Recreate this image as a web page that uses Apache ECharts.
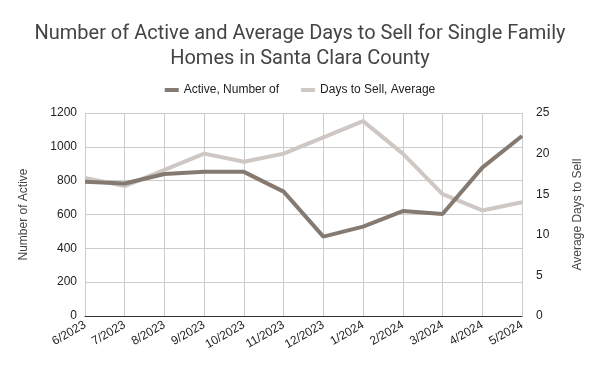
<!DOCTYPE html>
<html><head><meta charset="utf-8">
<script src="https://cdn.jsdelivr.net/npm/echarts@6/dist/echarts.min.js"></script>
<style>html,body{margin:0;padding:0;background:#fff}#c{width:600px;height:371px}</style>
</head><body><div id="c"></div>
<script>
const categories = ['6/2023','7/2023','8/2023','9/2023','10/2023','11/2023','12/2023','1/2024','2/2024','3/2024','4/2024','5/2024'];
const activeNumber = [794, 783, 839, 852, 852, 735, 469, 528, 620, 603, 877, 1064];
const daysToSell = [17, 16, 18, 20, 19, 20, 22, 24, 20, 15, 13, 14];
const leftTicks = [0, 1200, 200];
const rightTicks = [0, 25, 5];

const chart = echarts.init(document.getElementById('c'), null, {renderer: 'canvas'});
const font = '"Liberation Sans", Arial, sans-serif';
const tfont = 'Roboto, Arial, sans-serif';
chart.setOption({
  animation: false,
  title: {
    text: 'Number of Active and Average Days to Sell for Single Family\nHomes in Santa Clara County',
    left: 'center', top: 16,
    textStyle: {fontFamily: tfont, fontSize: 20, fontWeight: 'normal', color: '#444', lineHeight: 25}
  },
  legend: {
    top: 79, left: 'center', itemWidth: 14, itemHeight: 4, itemGap: 22,
    icon: 'rect',
    textStyle: {fontFamily: font, fontSize: 12, color: '#222'},
    data: ['Active, Number of', 'Days to Sell, Average']
  },
  grid: {left: 85, right: 78, top: 113, bottom: 55},
  xAxis: {
    type: 'category', data: categories, boundaryGap: false,
    axisLine: {lineStyle: {color: '#333'}},
    axisTick: {show: false},
    axisLabel: {rotate: 30, fontFamily: font, fontSize: 12, color: '#222', margin: 8, interval: 0},
    splitLine: {show: true, lineStyle: {color: '#ccc'}}
  },
  yAxis: [{
    type: 'value', min: leftTicks[0], max: leftTicks[1], interval: leftTicks[2],
    name: 'Number of Active', nameLocation: 'middle', nameGap: 55,
    nameTextStyle: {fontFamily: font, fontSize: 12, color: '#444'},
    axisLine: {show: false}, axisTick: {show: false},
    axisLabel: {fontFamily: font, fontSize: 12, color: '#222', margin: 8, formatter: v => String(v)},
    splitLine: {lineStyle: {color: '#ccc'}}
  }, {
    type: 'value', min: rightTicks[0], max: rightTicks[1], interval: rightTicks[2],
    name: 'Average Days to Sell', nameLocation: 'middle', nameGap: 50, nameRotate: 90,
    nameTextStyle: {fontFamily: font, fontSize: 12, color: '#444'},
    axisLine: {show: false}, axisTick: {show: false},
    axisLabel: {fontFamily: font, fontSize: 12, color: '#222', margin: 14},
    splitLine: {show: false}
  }],
  series: [{
    name: 'Active, Number of', type: 'line', data: activeNumber, yAxisIndex: 0,
    symbol: 'none', lineStyle: {width: 4, color: '#857a71'}, itemStyle: {color: '#857a71'}, z: 3
  }, {
    name: 'Days to Sell, Average', type: 'line', data: daysToSell, yAxisIndex: 1,
    symbol: 'none', lineStyle: {width: 4, color: '#cfc7c3'}, itemStyle: {color: '#cfc7c3'}, z: 2
  }]
});
</script></body></html>
